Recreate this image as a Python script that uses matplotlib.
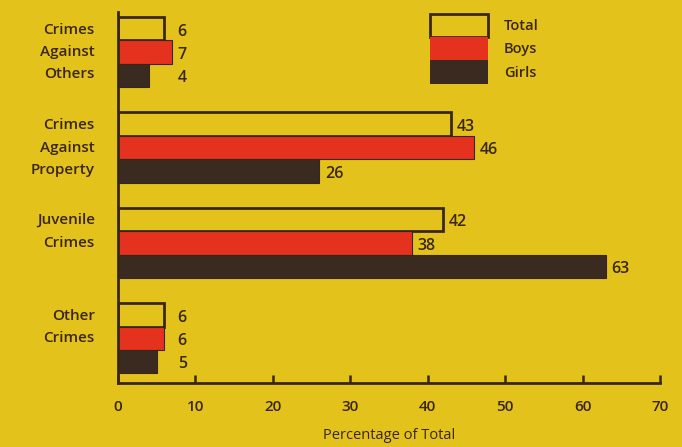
import numpy as np
import matplotlib.pyplot as plt
from matplotlib.patches import Patch

# === Data ===
categories = ["Crimes\nAgainst\nOthers", "Crimes\nAgainst\nProperty",
              "Juvenile\nCrimes", "Other\nCrimes"]
total = [6, 43, 42, 6]
boys = [7, 46, 38, 6]
girls = [4, 26, 63, 5]
series_names = ["Total", "Boys", "Girls"]

# === Style ===
bg = "#e4c21c"
ink = "#3a2616"
red = "#e4321f"
dark = "#3b2a1f"
plt.rcParams['font.family'] = ['Open Sans', 'DejaVu Sans']
plt.rcParams['font.weight'] = 'semibold'

fig = plt.figure(figsize=(6.82, 4.47), dpi=100, facecolor=bg)
ax = fig.add_axes([0.173, 0.143, 0.795, 0.830])
ax.set_facecolor(bg)

y = np.arange(len(categories))
h = 0.245
fills = [bg, red, dark]
for i, (vals, fc) in enumerate(zip([total, boys, girls], fills)):
    ax.barh(y - h + i * h, vals, height=h, color=fc, edgecolor=ink,
            linewidth=2 if i == 0 else 0.8)

# value labels
groups = list(zip(total, boys, girls))
for g, vals in enumerate(groups):
    for i, v in enumerate(vals):
        ax.text(max(v, 7) + 0.7, g - h + i * h + 0.03, str(v), va="center",
                ha="left", fontsize=11.5, color=ink)

# category labels
for g, lab in enumerate(categories):
    yy = g if lab.count("\n") == 2 else g - 0.12
    ax.text(-3.0, yy, lab, ha="right", va="center", fontsize=11,
            color=ink, linespacing=1.75)

ax.set_xlim(0, 70)
ax.set_ylim(3.47, -0.42)
ax.set_xticks(np.arange(0, 71, 10))
ax.set_yticks([])
ax.tick_params(axis="x", direction="in", length=6, width=1.8, colors=ink,
               labelsize=11, pad=12)
for s in ["top", "right"]:
    ax.spines[s].set_visible(False)
for s in ["left", "bottom"]:
    ax.spines[s].set_color(ink)
    ax.spines[s].set_linewidth(2)
ax.set_xlabel("Percentage of Total", fontsize=10.5, color=ink, labelpad=10)

# legend
handles = [Patch(facecolor=fc, edgecolor=ink, linewidth=2 if i == 0 else 0)
           for i, fc in enumerate(fills)]
leg = ax.legend(handles, series_names, loc="upper left",
                bbox_to_anchor=(0.572, 1.0), frameon=False, fontsize=10.5,
                handlelength=4.0, handleheight=2.1, labelspacing=0,
                handletextpad=1.1, borderpad=0, borderaxespad=0.1)
for t in leg.get_texts():
    t.set_color(ink)

plt.savefig("out.png", dpi=100, facecolor=bg)
